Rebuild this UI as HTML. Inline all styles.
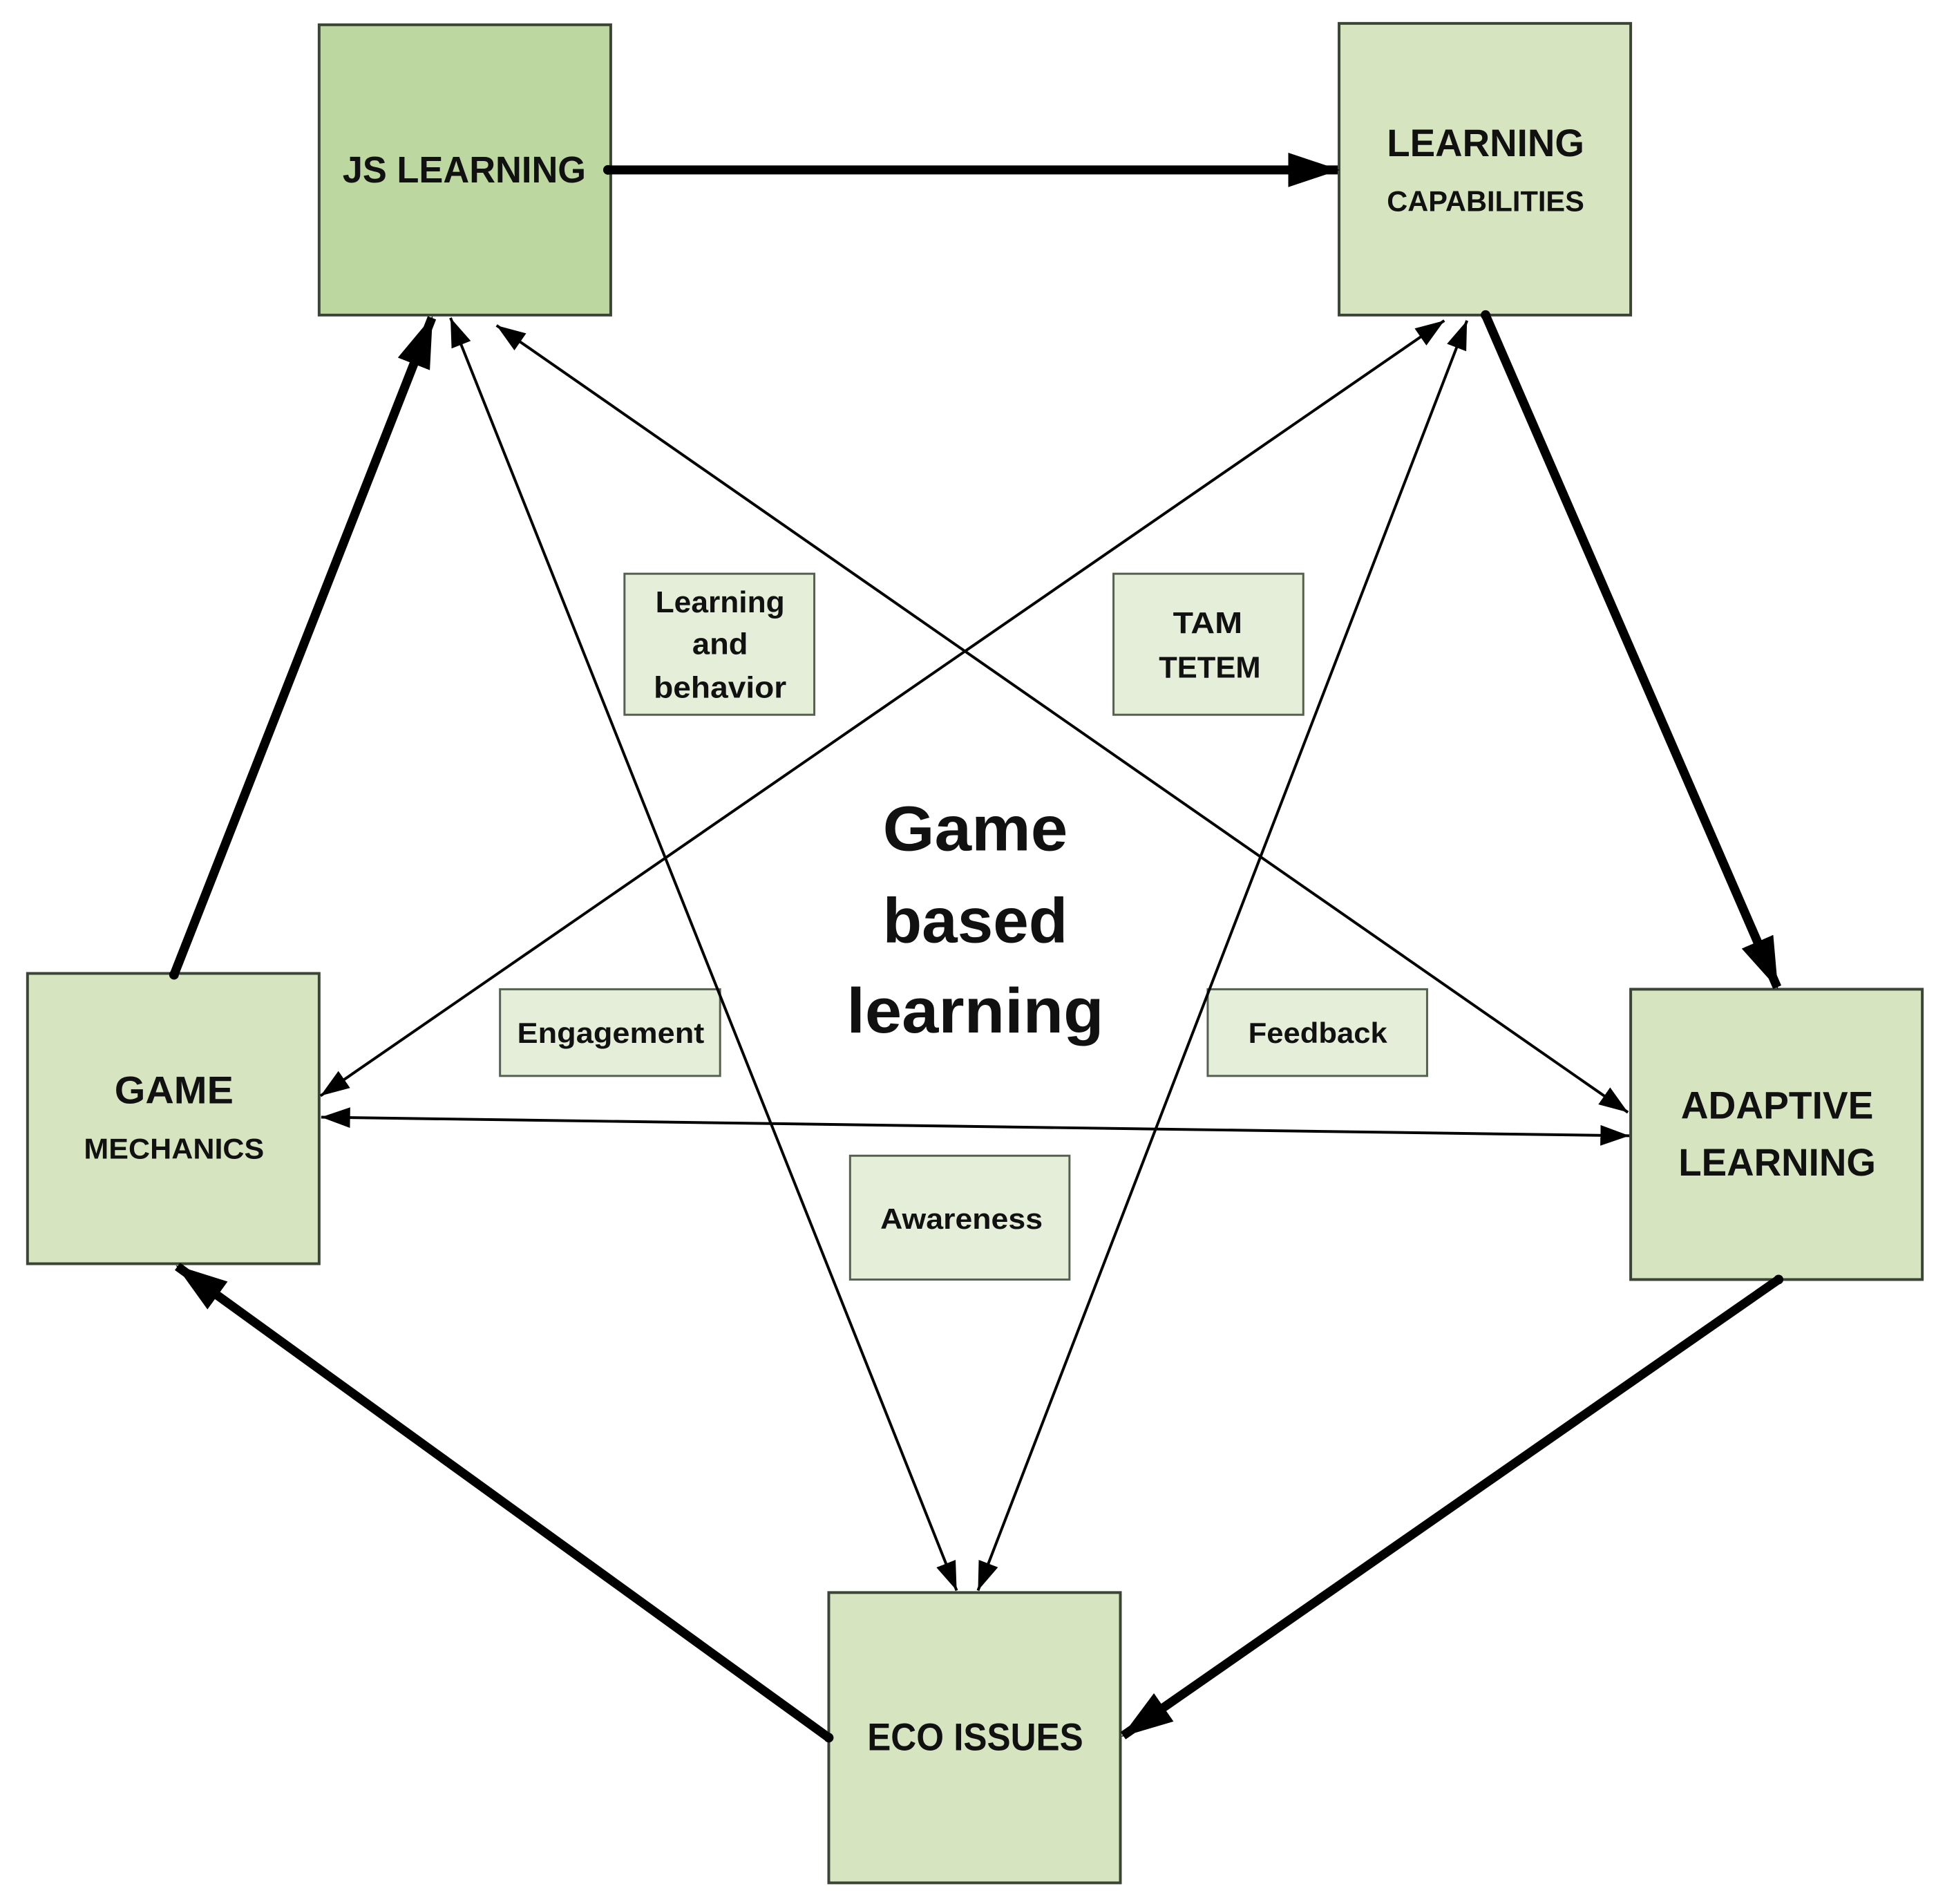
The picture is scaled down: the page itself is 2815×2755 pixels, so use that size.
<!DOCTYPE html>
<html><head><meta charset="utf-8"><style>
html,body{margin:0;padding:0;background:#fff}
svg{display:block}
text{font-family:"Liberation Sans",sans-serif;font-weight:bold;fill:#111;text-anchor:middle}
</style></head><body>
<svg width="2815" height="2755" viewBox="0 0 2815 2755" xmlns="http://www.w3.org/2000/svg">
<defs>
<marker id="tk" markerUnits="userSpaceOnUse" markerWidth="80" markerHeight="60" refX="72" refY="25" orient="auto"><path d="M0,0 L75,25 L0,50 Z" fill="#000"/></marker>
<marker id="tn" markerUnits="userSpaceOnUse" markerWidth="50" markerHeight="40" refX="42" refY="15" orient="auto"><path d="M0,0 L42,15 L0,30 Z" fill="#000"/></marker>
<marker id="tns" markerUnits="userSpaceOnUse" markerWidth="50" markerHeight="40" refX="0" refY="15" orient="auto"><path d="M42,0 L0,15 L42,30 Z" fill="#000"/></marker>
</defs>
<g transform="scale(0.9954)">
<rect x="464" y="36" width="424" height="422" fill="#bdd7a0" stroke="#3a4535" stroke-width="4"/>
<rect x="1947" y="34" width="424" height="424" fill="#d6e4bf" stroke="#3a4535" stroke-width="4"/>
<rect x="40" y="1415" width="424" height="422" fill="#d6e4bf" stroke="#3a4535" stroke-width="4"/>
<rect x="2371" y="1438" width="424" height="422" fill="#d6e4bf" stroke="#3a4535" stroke-width="4"/>
<rect x="1205" y="2315" width="424" height="422" fill="#d6e4bf" stroke="#3a4535" stroke-width="4"/>

<g fill="#e4eed8" stroke="#55604f" stroke-width="3">
<rect x="908" y="834" width="276" height="205"/>
<rect x="1619" y="834" width="276" height="205"/>
<rect x="727" y="1438" width="320" height="126"/>
<rect x="1756" y="1438" width="319" height="126"/>
<rect x="1236" y="1680" width="319" height="180"/>
</g>

<g stroke="#000" stroke-width="4" fill="none" marker-start="url(#tns)" marker-end="url(#tn)">
<line x1="655" y1="462" x2="1391" y2="2312"/>
<line x1="722" y1="473" x2="2367" y2="1617"/>
<line x1="2100" y1="466" x2="466" y2="1593"/>
<line x1="2133" y1="466" x2="1422" y2="2312"/>
<line x1="467" y1="1624" x2="2369" y2="1651"/>
</g>

<g stroke="#000" stroke-width="13" fill="none" stroke-linecap="butt" marker-end="url(#tk)">
<line x1="884" y1="247" x2="1945" y2="247"/>
<line x1="2160" y1="458" x2="2584" y2="1435"/>
<line x1="2586" y1="1860" x2="1633" y2="2523"/>
<line x1="1205" y1="2526" x2="258" y2="1841"/>
<line x1="253" y1="1417" x2="628" y2="462"/>
</g>
<g fill="#000"><circle cx="884" cy="247" r="7"/><circle cx="253" cy="1417" r="7"/><circle cx="2160" cy="458" r="7"/><circle cx="2586" cy="1860" r="7"/><circle cx="1205" cy="2526" r="7"/></g>

<text x="675" y="265" font-size="54" textLength="354" lengthAdjust="spacingAndGlyphs">JS LEARNING</text>
<text x="2160" y="227" font-size="56" textLength="287" lengthAdjust="spacingAndGlyphs">LEARNING</text>
<text x="2160" y="307" font-size="42" textLength="287" lengthAdjust="spacingAndGlyphs">CAPABILITIES</text>
<text x="253" y="1604" font-size="56" textLength="173" lengthAdjust="spacingAndGlyphs">GAME</text>
<text x="253" y="1684" font-size="42" textLength="262" lengthAdjust="spacingAndGlyphs">MECHANICS</text>
<text x="2584" y="1626" font-size="56" textLength="280" lengthAdjust="spacingAndGlyphs">ADAPTIVE</text>
<text x="2584" y="1709" font-size="56" textLength="287" lengthAdjust="spacingAndGlyphs">LEARNING</text>
<text x="1418" y="2544" font-size="56" textLength="314" lengthAdjust="spacingAndGlyphs">ECO ISSUES</text>

<text x="1047" y="890" font-size="44" textLength="188" lengthAdjust="spacingAndGlyphs">Learning</text>
<text x="1047" y="951" font-size="44" textLength="81" lengthAdjust="spacingAndGlyphs">and</text>
<text x="1047" y="1014" font-size="44" textLength="193" lengthAdjust="spacingAndGlyphs">behavior</text>
<text x="1756" y="920" font-size="44" textLength="101" lengthAdjust="spacingAndGlyphs">TAM</text>
<text x="1759" y="985" font-size="44" textLength="148" lengthAdjust="spacingAndGlyphs">TETEM</text>
<text x="888" y="1516" font-size="42" textLength="272" lengthAdjust="spacingAndGlyphs">Engagement</text>
<text x="1916" y="1516" font-size="42" textLength="202" lengthAdjust="spacingAndGlyphs">Feedback</text>
<text x="1398" y="1786" font-size="42" textLength="236" lengthAdjust="spacingAndGlyphs">Awareness</text>

<text x="1418" y="1236" font-size="92" textLength="269" lengthAdjust="spacingAndGlyphs">Game</text>
<text x="1418" y="1370" font-size="92" textLength="269" lengthAdjust="spacingAndGlyphs">based</text>
<text x="1418" y="1501" font-size="92" textLength="374" lengthAdjust="spacingAndGlyphs">learning</text>
</g>
</svg>
</body></html>
